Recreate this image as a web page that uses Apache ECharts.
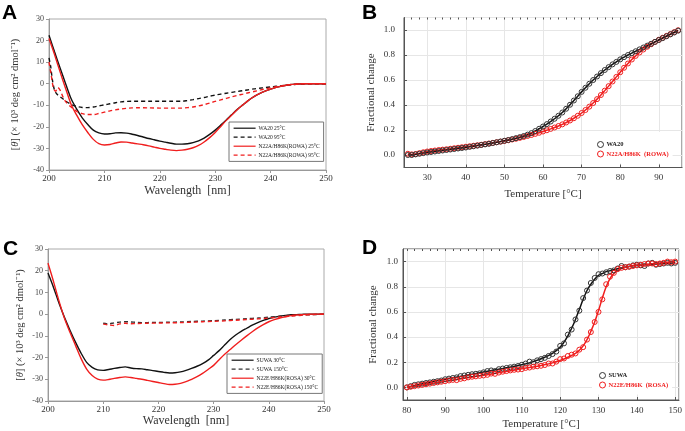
<!DOCTYPE html>
<html><head><meta charset="utf-8">
<script src="https://cdn.jsdelivr.net/npm/echarts@6/dist/echarts.min.js"></script>
<style>html,body{margin:0;padding:0;background:#fff}#c{width:685px;height:431px}</style>
</head><body><div id="c"></div>
<script>
// ---------- Panel A (CD spectra, WA20 / ROWA) ----------
const WL = [200,201,202,203,204,205,206,207,208,209,210,211,212,213,214,215,216,217,218,219,220,221,222,223,224,225,226,227,228,229,230,231,232,233,234,235,236,237,238,239,240,241,242,243,244,245,246,247,248,249,250];
const A_WA20_25 = [22.5,14.8,7.3,0,-7,-11.8,-15.8,-18.9,-21.5,-22.8,-23.3,-23.2,-22.8,-22.7,-22.9,-23.4,-24,-24.7,-25.4,-26,-26.6,-27.1,-27.6,-28,-28,-27.8,-27.3,-26.5,-25.2,-23.5,-21.5,-19.2,-16.8,-14.3,-11.9,-9.8,-7.7,-6,-4.6,-3.4,-2.5,-1.7,-1.1,-0.6,-0.3,-0.1,0,0,0,0,0];
const A_ROWA_25 = [21,13.5,5.5,-2.2,-9.6,-14.6,-19,-22.6,-25.8,-27.8,-28.4,-28.2,-27.5,-27,-27.1,-27.5,-27.9,-28.3,-28.8,-29.4,-30,-30.4,-30.8,-31,-30.8,-30.4,-29.7,-28.6,-27,-25,-22.6,-19.8,-17,-14.5,-12,-9.8,-7.7,-6,-4.6,-3.4,-2.5,-1.7,-1.1,-0.6,-0.3,-0.1,0,0,0,0,0];
const WL_A_D1 = [200,200.3,200.6,201,201.5,202,203,204,205,206,207,208,209,210,211,212,213,214,215,216,218,220,222,224,225,226,227,228,229,230,231,232,233,234,235,236,237,238,239,240,241,242,243,244,245,246,247,248,250];
const A_WA20_95 = [12,8,2,-3,-5,-6,-8,-9.6,-10.5,-11,-11.1,-10.8,-10.3,-9.8,-9.3,-8.8,-8.4,-8.2,-8.1,-8.1,-8.1,-8.1,-8.1,-8.1,-7.8,-7.4,-6.9,-6.4,-5.8,-5.3,-4.8,-4.4,-4,-3.6,-3.2,-2.8,-2.4,-2.1,-1.8,-1.5,-1.2,-0.9,-0.6,-0.4,-0.2,-0.1,0,0,0];
const WL_A_D2 = [200,200.4,200.8,201.2,201.6,202,202.5,203,204,205,206,207,208,209,210,211,212,213,214,215,216,218,220,222,224,225,226,227,228,229,230,231,232,233,234,235,236,237,238,239,240,241,242,243,244,245,246,248,250];
const A_ROWA_95 = [10,4,-2,-3.5,-1.8,-3,-6,-8.3,-10.8,-12.8,-13.9,-14.3,-14.3,-13.8,-13.2,-12.6,-12.1,-11.7,-11.4,-11.2,-11.1,-11.2,-11.3,-11.3,-11.3,-11.1,-10.8,-10.3,-9.7,-9,-8.2,-7.5,-6.8,-6.1,-5.4,-4.8,-4.2,-3.6,-3,-2.4,-1.9,-1.4,-1,-0.6,-0.3,-0.1,0,0,0];

// ---------- Panel C (CD spectra, SUWA / ROSA) ----------
const C_SUWA_30 = [18.9,12.3,5,-1.6,-7.5,-13,-18,-22.2,-24.5,-25.7,-25.9,-25.5,-25,-24.6,-24.3,-24.8,-25.1,-25.2,-25.6,-26,-26.4,-26.8,-27.1,-27,-26.6,-25.9,-25,-24,-22.8,-21.2,-19,-16.8,-14.2,-11.7,-9.6,-7.9,-6.5,-5.1,-3.9,-2.9,-2,-1.4,-0.9,-0.6,-0.3,-0.2,-0.1,0,0,0,0];
const C_ROSA_30 = [23.5,15,6,-2,-8.5,-14.5,-20.5,-25.3,-28.3,-29.9,-30.4,-30.1,-29.6,-29.2,-28.9,-29.2,-29.6,-30,-30.5,-31,-31.5,-32,-32.4,-32.3,-31.9,-31.1,-30,-28.8,-27.3,-25.5,-23.6,-21,-18.5,-16.3,-14.1,-12,-10,-8.1,-6.3,-4.8,-3.5,-2.5,-1.8,-1.2,-0.7,-0.4,-0.2,-0.1,0,0,0];
const WL_C_D1 = [210,211,212,213,214,215,216,217,218,219,220,222,224,226,228,230,232,234,236,238,240,242,244,246,248,250];
const C_SUWA_150 = [-4.2,-4.5,-4,-3.7,-3.5,-3.6,-3.8,-3.9,-3.9,-3.8,-3.8,-3.7,-3.6,-3.4,-3.2,-3,-2.7,-2.4,-2.1,-1.8,-1.4,-1,-0.7,-0.4,-0.2,0];
const WL_C_D2 = [210,211,212,213,214,215,216,218,220,222,224,226,228,230,232,234,236,238,240,242,244,246,248,250];
const C_ROSA_150 = [-4.6,-5,-5.2,-4.5,-4.2,-4.4,-4.3,-4.2,-4.1,-4,-3.9,-3.7,-3.5,-3.3,-3.1,-2.8,-2.5,-2.2,-1.8,-1.3,-0.9,-0.5,-0.2,0];

// ---------- Panel B (thermal unfolding, WA20 / ROWA) ----------
const TEMP_B = [25,26,27,28,29,30,31,32,33,34,35,36,37,38,39,40,41,42,43,44,45,46,47,48,49,50,51,52,53,54,55,56,57,58,59,60,61,62,63,64,65,66,67,68,69,70,71,72,73,74,75,76,77,78,79,80,81,82,83,84,85,86,87,88,89,90,91,92,93,94,95];
const B_WA20 = [0,0,0.005,0.01,0.015,0.02,0.024,0.028,0.032,0.036,0.04,0.044,0.048,0.052,0.056,0.06,0.065,0.07,0.075,0.08,0.085,0.09,0.096,0.102,0.108,0.114,0.12,0.127,0.135,0.143,0.152,0.163,0.175,0.192,0.21,0.228,0.247,0.268,0.29,0.314,0.34,0.37,0.402,0.436,0.47,0.505,0.538,0.57,0.6,0.628,0.655,0.68,0.703,0.725,0.745,0.765,0.783,0.8,0.815,0.83,0.845,0.86,0.875,0.89,0.905,0.92,0.935,0.95,0.965,0.98,0.995];
const B_ROWA = [0.01,0.005,0.008,0.015,0.022,0.028,0.032,0.036,0.04,0.043,0.046,0.05,0.054,0.058,0.062,0.066,0.07,0.074,0.078,0.082,0.087,0.092,0.097,0.102,0.107,0.112,0.118,0.124,0.13,0.137,0.144,0.152,0.16,0.169,0.178,0.188,0.198,0.209,0.22,0.232,0.245,0.26,0.276,0.294,0.314,0.336,0.36,0.387,0.416,0.447,0.48,0.515,0.551,0.588,0.625,0.662,0.698,0.732,0.764,0.793,0.82,0.844,0.866,0.886,0.905,0.922,0.938,0.953,0.968,0.983,0.998];
const TOP_TICKS_B = [26,28,30,32,34,36,38,40,42,44,46,48,50,52,54,56,58,60,62,64,66,68,70,72,74,76,78,80,82,84,86,88,90,92,94];

// ---------- Panel D (thermal unfolding, SUWA / ROSA) ----------
const TEMP_D = [80,81,82,83,84,85,86,87,88,89,90,91,92,93,94,95,96,97,98,99,100,101,102,103,104,105,106,107,108,109,110,111,112,113,114,115,116,117,118,119,120,121,122,123,124,125,126,127,128,129,130,131,132,133,134,135,136,137,138,139,140,141,142,143,144,145,146,147,148,149,150];
const D_SUWA = [0,0.01,0.02,0.025,0.03,0.035,0.04,0.045,0.05,0.055,0.065,0.07,0.075,0.08,0.09,0.095,0.1,0.105,0.108,0.112,0.12,0.13,0.135,0.13,0.145,0.15,0.155,0.16,0.165,0.17,0.18,0.19,0.205,0.2,0.215,0.225,0.235,0.25,0.265,0.285,0.33,0.35,0.42,0.46,0.54,0.61,0.71,0.77,0.83,0.87,0.9,0.905,0.915,0.925,0.93,0.945,0.965,0.955,0.96,0.97,0.975,0.97,0.965,0.985,0.99,0.975,0.98,0.985,0.99,0.985,0.99];
const D_ROSA = [0,0.005,0.01,0.015,0.02,0.025,0.03,0.035,0.04,0.045,0.05,0.055,0.06,0.058,0.068,0.072,0.08,0.085,0.088,0.092,0.095,0.1,0.11,0.108,0.118,0.125,0.13,0.135,0.14,0.142,0.145,0.155,0.158,0.165,0.168,0.172,0.178,0.19,0.19,0.205,0.225,0.23,0.25,0.26,0.27,0.3,0.32,0.38,0.44,0.52,0.6,0.7,0.82,0.88,0.91,0.94,0.95,0.955,0.96,0.965,0.97,0.975,0.98,0.985,0.985,0.98,0.985,0.99,1,0.995,1];
const FIT_D_X = [80,85,90,95,100,105,110,113,116,118,120,121,122,123,124,125,126,127,128,129,130,131,132,134,136,140,145,150];
const FIT_D_SUWA = [0,0.035,0.065,0.093,0.122,0.15,0.18,0.205,0.24,0.27,0.32,0.36,0.41,0.47,0.54,0.62,0.7,0.77,0.82,0.86,0.89,0.905,0.92,0.935,0.95,0.97,0.98,0.99];
const FIT_D_X2 = [80,85,90,95,100,105,110,115,118,120,122,124,125,126,127,128,129,130,131,132,133,134,135,136,138,140,145,150];
const FIT_D_ROSA = [0,0.025,0.05,0.073,0.096,0.122,0.148,0.175,0.195,0.215,0.24,0.27,0.295,0.33,0.38,0.445,0.52,0.61,0.71,0.8,0.865,0.905,0.93,0.945,0.96,0.97,0.985,1];
const TOP_TICKS_D = [80,82,84,86,88,90,92,94,96,98,100,102,104,106,108,110,112,114,116,118,120,122,124,126,128,130,132,134,136,138,140,142,144,146,148,150];

const zip = (xs, ys) => xs.map((x, i) => [x, ys[i]]);

const BLACK = '#111111', RED = '#f01e1e';
const SERIF = 'Liberation Serif';

function cdX(gi, gap) {
  return { type: 'value', gridIndex: gi, min: 200, max: 250, interval: 10,
    name: 'Wavelength  [nm]', nameLocation: 'middle', nameGap: gap,
    nameTextStyle: { fontFamily: SERIF, fontSize: 12, color: '#333' },
    axisLine: { onZero: false, lineStyle: { color: '#999' } }, axisTick: { length: 3, lineStyle: { color: '#999' } },
    axisLabel: { fontFamily: SERIF, fontSize: 9, color: '#333', margin: 4 }, splitLine: { show: false } };
}
function cdY(gi, gap) {
  return { type: 'value', gridIndex: gi, min: -40, max: 30, interval: 10,
    name: '[{i|θ}] (× 10³ deg cm² dmol⁻¹)', nameLocation: 'middle', nameGap: gap,
    nameTextStyle: { fontFamily: SERIF, fontSize: 10.5, color: '#333', rich: { i: { fontFamily: SERIF, fontStyle: 'italic', fontSize: 10.5, color: '#333' } } },
    axisLine: { onZero: false, lineStyle: { color: '#999' } }, axisTick: { length: 3, lineStyle: { color: '#999' } },
    axisLabel: { fontFamily: SERIF, fontSize: 8, color: '#444', margin: 5 }, splitLine: { show: false } };
}
function tX(gi, min, max, gap) {
  return { type: 'value', gridIndex: gi, min: min, max: max,
    name: 'Temperature [°C]', nameLocation: 'middle', nameGap: gap,
    nameTextStyle: { fontFamily: SERIF, fontSize: 11, color: '#333' },
    axisLine: { onZero: false, lineStyle: { color: '#555' } }, axisTick: { inside: true, length: 3, lineStyle: { color: '#555' } },
    axisLabel: { fontFamily: SERIF, fontSize: 9, color: '#333', margin: 6, showMinLabel: false, showMaxLabel: false },
    splitLine: { show: true, lineStyle: { color: '#e6e6e6', width: 1 } } };
}
function topX(gi, min, max, ticks) {
  return { type: 'value', gridIndex: gi, position: 'top', min: min, max: max,
    axisLine: { show: false, onZero: false }, axisLabel: { show: false },
    axisTick: { inside: true, length: 2, customValues: ticks, lineStyle: { color: '#555' } },
    splitLine: { show: false } };
}
function tY(gi, gap, margin) {
  return { type: 'value', gridIndex: gi, min: -0.1, max: 1.1,
    name: 'Fractional change', nameLocation: 'middle', nameGap: gap,
    nameTextStyle: { fontFamily: SERIF, fontSize: 11, color: '#333' },
    axisLine: { onZero: false, lineStyle: { color: '#555' } }, axisTick: { inside: true, length: 3, lineStyle: { color: '#555' } },
    axisLabel: { fontFamily: SERIF, fontSize: 9, color: '#333', margin: margin, showMinLabel: false, showMaxLabel: false,
      formatter: v => v.toFixed(1) },
    splitLine: { show: true, lineStyle: { color: '#e6e6e6', width: 1 } } };
}
function cdLine(name, gi, data, color, dashed) {
  return { name: name, type: 'line', xAxisIndex: gi, yAxisIndex: gi, data: data, symbol: 'none', smooth: 0.3,
    lineStyle: { color: color, width: 1.4, type: dashed ? [4, 3] : 'solid' }, itemStyle: { color: color }, z: 3 };
}
function pts(name, gi, data, color) {
  return { name: name, type: 'scatter', xAxisIndex: gi, yAxisIndex: gi, data: data, symbol: 'circle', symbolSize: 5,
    itemStyle: { color: 'rgba(255,255,255,0)', borderColor: color, borderWidth: 1, opacity: 1 }, z: 5 };
}
function fit(gi, data, color) {
  return { name: '_fit', type: 'line', xAxisIndex: gi, yAxisIndex: gi, data: data, symbol: 'none', smooth: 0.4,
    lineStyle: { color: color, width: 1.5 }, z: 4, silent: true };
}
function cdLegend(left, top, names) {
  return { left: left, top: top, orient: 'vertical', data: names, itemWidth: 22, itemHeight: 8, itemGap: 2.6,
    padding: [3, 4, 3, 4], borderColor: '#777', borderWidth: 1, backgroundColor: '#fff',
    itemStyle: { color: 'rgba(0,0,0,0)', borderColor: 'rgba(0,0,0,0)', borderWidth: 0 },
    lineStyle: { width: 1.2 },
    textStyle: { fontFamily: SERIF, fontSize: 5.5, color: '#222', padding: [0, 0, 0, -2] }, selectedMode: false };
}
function ptLegend(left, top, n1, n2) {
  const st = c => ({ color: '#fff', borderColor: c, borderWidth: 1 });
  return { left: left, top: top, orient: 'vertical', itemWidth: 6, itemHeight: 6, itemGap: 2.5,
    padding: [9, 4, 6, 7], backgroundColor: '#fff', borderWidth: 0, selectedMode: false,
    textStyle: { fontFamily: SERIF, fontSize: 6.5, fontWeight: 'bold', padding: [0, 0, 0, -2] },
    data: [ { name: n1, icon: 'circle', itemStyle: st('#333'), textStyle: { color: '#222' } },
            { name: n2, icon: 'circle', itemStyle: st(RED), textStyle: { color: RED } } ] };
}

const chart = echarts.init(document.getElementById('c'), null, { renderer: 'canvas' });
chart.setOption({
  animation: false,
  backgroundColor: '#fff',
  grid: [
    { left: 49, top: 19, width: 277, height: 151, show: true, borderColor: '#aaa', borderWidth: 1 },
    { left: 404, top: 17.5, width: 278, height: 150, show: true, borderColor: '#555', borderWidth: 1 },
    { left: 48, top: 249, width: 276, height: 152, show: true, borderColor: '#aaa', borderWidth: 1 },
    { left: 403, top: 249, width: 276, height: 151, show: true, borderColor: '#555', borderWidth: 1 }
  ],
  xAxis: [ cdX(0, 15), tX(1, 24, 96, 21), cdX(2, 14), tX(3, 79, 151, 19),
           topX(1, 24, 96, TOP_TICKS_B), topX(3, 79, 151, TOP_TICKS_D) ],
  yAxis: [ cdY(0, 28), tY(1, 27, 9), cdY(2, 22), tY(3, 24, 5) ],
  legend: [
    cdLegend(229, 122, ['WA20 25°C', 'WA20 95°C', 'N22A/H86K(ROWA) 25°C', 'N22A/H86K(ROWA) 95°C']),
    ptLegend(590, 132, 'WA20', 'N22A/H86K  (ROWA)'),
    cdLegend(227, 354, ['SUWA 30°C', 'SUWA 150°C', 'N22E/H86K(ROSA) 30°C', 'N22E/H86K(ROSA) 150°C']),
    ptLegend(592, 363, 'SUWA', 'N22E/H86K  (ROSA)')
  ],
  graphic: [
    { type: 'text', left: 2, top: 3, style: { text: 'A', font: 'bold 21px "Liberation Sans"', fill: '#000' } },
    { type: 'text', left: 362, top: 3, style: { text: 'B', font: 'bold 21px "Liberation Sans"', fill: '#000' } },
    { type: 'text', left: 3, top: 239, style: { text: 'C', font: 'bold 21px "Liberation Sans"', fill: '#000' } },
    { type: 'text', left: 362, top: 238, style: { text: 'D', font: 'bold 21px "Liberation Sans"', fill: '#000' } }
  ],
  series: [
    cdLine('WA20 25°C', 0, zip(WL, A_WA20_25), BLACK, false),
    cdLine('WA20 95°C', 0, zip(WL_A_D1, A_WA20_95), BLACK, true),
    cdLine('N22A/H86K(ROWA) 25°C', 0, zip(WL, A_ROWA_25), RED, false),
    cdLine('N22A/H86K(ROWA) 95°C', 0, zip(WL_A_D2, A_ROWA_95), RED, true),

    fit(1, zip(TEMP_B, B_ROWA), RED),
    fit(1, zip(TEMP_B, B_WA20), BLACK),
    pts('N22A/H86K  (ROWA)', 1, zip(TEMP_B, B_ROWA), RED),
    pts('WA20', 1, zip(TEMP_B, B_WA20), '#333'),

    cdLine('SUWA 30°C', 2, zip(WL, C_SUWA_30), BLACK, false),
    cdLine('SUWA 150°C', 2, zip(WL_C_D1, C_SUWA_150), '#333', true),
    cdLine('N22E/H86K(ROSA) 30°C', 2, zip(WL, C_ROSA_30), RED, false),
    cdLine('N22E/H86K(ROSA) 150°C', 2, zip(WL_C_D2, C_ROSA_150), RED, true),

    pts('SUWA', 3, zip(TEMP_D, D_SUWA), '#333'),
    pts('N22E/H86K  (ROSA)', 3, zip(TEMP_D, D_ROSA), RED),
    fit(3, zip(FIT_D_X, FIT_D_SUWA), BLACK),
    fit(3, zip(FIT_D_X2, FIT_D_ROSA), RED)
  ]
});
</script>
</body></html>
